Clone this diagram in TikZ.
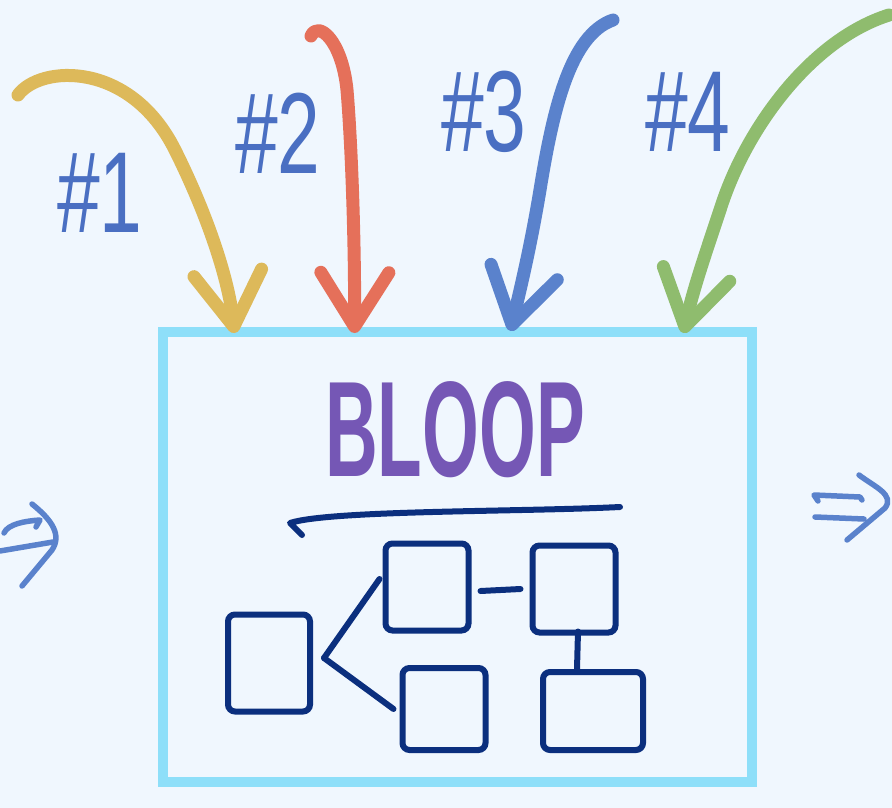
\documentclass[tikz,border=0pt]{standalone}
\usepackage{fontspec}
\usepackage{xcolor}
\usepackage{tikz}
\usetikzlibrary{arrows.meta, positioning, calc}

\newfontfamily\handfont{Liberation Sans}

\definecolor{paper}{HTML}{F0F7FE}
\definecolor{boxcyan}{HTML}{8EDFF9}
\definecolor{crayonyellow}{HTML}{DDB95A}
\definecolor{crayonred}{HTML}{E5705A}
\definecolor{crayonblue}{HTML}{5A82CC}
\definecolor{crayongreen}{HTML}{8FBC6E}
\definecolor{tagblue}{HTML}{4A6FC2}
\definecolor{bloopviolet}{HTML}{7557B5}
\definecolor{navy}{HTML}{0B2F7E}

\begin{document}
\begin{tikzpicture}[
    x=1pt, y=-1pt,
    crayon/.style={line width=13pt, line cap=round, line join=round},
    inarr/.style={crayon, -{Straight Barb[length=54pt, width=68pt, round]}},
    pen/.style={line width=6pt, line cap=round, line join=round, navy},
    card/.style={draw=navy, line width=6pt, rounded corners=7pt, inner sep=0pt},
    tag/.style={font=\handfont\fontsize{64}{64}\selectfont, text=tagblue,
                inner sep=0pt, xscale=1.2, yscale=1.8},
    flow/.style={line width=5.5pt, line cap=round, line join=round, crayonblue},
]

% === Paper ===
\fill[paper] (0,0) rectangle (892,808);
\useasboundingbox (0,0) rectangle (892,808);

% === Main box ===
\node[draw=boxcyan, line width=10pt, minimum width=589pt, minimum height=450pt]
    (bloop) at (457,557) {};
\node[font=\handfont\bfseries\fontsize{100}{100}\selectfont, text=bloopviolet,
      inner sep=0pt, xscale=0.73, yscale=1.36] (title) at (455,430) {BLOOP};
\draw[pen] (302,535) -- (290,523) .. controls (330,510) and (520,512) .. (620,507);

% === Sketch inside ===
\node[card, minimum width=82pt, minimum height=97pt] (a) at (269,663) {};
\node[card, minimum width=83pt, minimum height=87pt] (b) at (427,587) {};
\node[card, minimum width=83pt, minimum height=87pt] (c) at (574,589) {};
\node[card, minimum width=83pt, minimum height=82pt] (d) at (444,709) {};
\node[card, minimum width=100pt, minimum height=78pt] (e) at (593,711) {};

\coordinate (fork) at ([xshift=11pt, yshift=5pt]a.east);
\draw[pen] (fork) -- ([xshift=-3pt, yshift=8pt]b.west);
\draw[pen] (fork) -- ([xshift=-6pt]d.west);
\draw[pen] ([xshift=9pt, yshift=-4pt]b.east) -- ([xshift=-9pt]c.west);
\draw[pen] ([xshift=4pt, yshift=4pt]c.south) -- ([xshift=-16pt]e.north);

% === Inputs #1..#4 ===
\coordinate (s1) at (18,95);
\coordinate (s2) at (311,36);
\coordinate (s3) at (613,20);
\coordinate (s4) at (889,15);

\draw[inarr, crayonyellow] (s1) .. controls (40,65) and (130,60) .. (175,150)
    .. controls (205,210) and (228,275) .. ([xshift=77pt, yshift=-6pt]bloop.north west);
\draw[inarr, crayonred] (s2) .. controls (318,20) and (342,40) .. (347,90)
    .. controls (352,150) and (355,250) .. ([xshift=197pt, yshift=-6pt]bloop.north west);
\draw[inarr, crayonblue] (s3) .. controls (570,35) and (553,110) .. (540,190)
    .. controls (530,250) and (520,290) .. ([xshift=353pt, yshift=-4pt]bloop.north west);
\draw[inarr, crayongreen] (s4) .. controls (810,40) and (745,130) .. (720,210)
    .. controls (705,255) and (693,290) .. ([xshift=526pt, yshift=-6pt]bloop.north west);

\node[tag] (t1) at (100,193) {\#1};
\node[tag] (t2) at (278,133) {\#2};
\node[tag] (t3) at (484,112) {\#3};
\node[tag] (t4) at (688,112) {\#4};

% === In / out ===
\draw[flow] (4,533) .. controls (8,524) and (25,521) .. (40,520) -- (36,527);
\draw[flow] (0,551) -- (53,542);
\draw[flow] (32,504) .. controls (52,520) and (62,535) .. (52,550) -- (22,586);

\draw[flow] (818,501) -- (814,495) -- (860,497) -- (862,500);
\draw[flow] (815,517) -- (864,519);
\draw[flow] (859,475) .. controls (875,487) and (895,495) .. (885,508) -- (847,540);

\end{tikzpicture}
\end{document}
